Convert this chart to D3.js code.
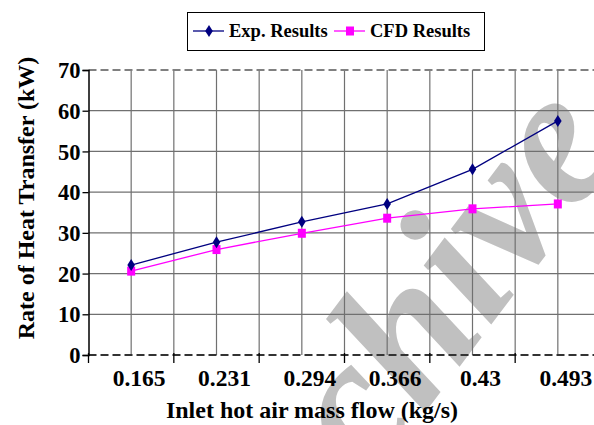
<!DOCTYPE html>
<html>
<head>
  <style>
    body, html { margin: 0; padding: 0; background: #fff; }
    svg { display: block; }
    text { font-family: "Liberation Serif", "Times New Roman", serif; font-weight: bold; }
  </style>
</head>
<body>
<svg id="svg" width="594" height="425"></svg>
<script src="https://d3js.org/d3.v7.min.js"></script>
<script>
  const flows = ["0.165", "0.231", "0.294", "0.366", "0.43", "0.493"]
  const expResults = [22.1, 27.7, 32.7, 37.1, 45.6, 57.5]
  const cfdResults = [20.6, 25.9, 29.9, 33.6, 35.9, 37.1]
  const yTicks = [0, 10, 20, 30, 40, 50, 60, 70]

  const svg = d3.select("#svg")
  const plotLeft = 88.5, plotRight = 600.5, plotTop = 70, plotBottom = 355

  const x = d3.scaleBand().domain(flows).range([plotLeft, plotRight])
  const y = d3.scaleLinear().domain([0, 70]).range([plotBottom, plotTop])
  const cx = d => x(d) + x.bandwidth() / 2

  // watermark under everything
  svg.append("text")
    .attr("transform", "translate(625,147) rotate(-53)")
    .attr("text-anchor", "end")
    .attr("font-size", 195)
    .attr("font-style", "italic")
    .attr("fill", "#c0c0c0")
    .text("Archive")

  const grid = svg.append("g").attr("stroke", "#707070").attr("stroke-width", 1.2)
  // vertical grid at category centres and boundaries
  const vx = []
  flows.forEach(f => { vx.push(x(f)); vx.push(cx(f)) })
  grid.selectAll(".v").data(vx.slice(1)).enter().append("line")
    .attr("x1", d => d).attr("x2", d => d)
    .attr("y1", plotTop).attr("y2", plotBottom)
  grid.selectAll(".h").data(yTicks.slice(1, -1)).enter().append("line")
    .attr("x1", plotLeft).attr("x2", 594)
    .attr("y1", d => y(d)).attr("y2", d => y(d))

  // top dashed border
  svg.append("line")
    .attr("x1", plotLeft).attr("x2", 594).attr("y1", y(70)).attr("y2", y(70))
    .attr("stroke", "#808080").attr("stroke-width", 2).attr("stroke-dasharray", "8,4")

  // x axis
  svg.append("line")
    .attr("x1", plotLeft).attr("x2", 594).attr("y1", plotBottom).attr("y2", plotBottom)
    .attr("stroke", "#333").attr("stroke-width", 2).attr("stroke-dasharray", "8,4")
  svg.append("g").selectAll("line").data(flows).enter().append("line")
    .attr("x1", d => x(d)).attr("x2", d => x(d))
    .attr("y1", plotBottom - 2).attr("y2", plotBottom + 8)
    .attr("stroke", "#000").attr("stroke-width", 1.3)
  svg.append("g").selectAll("text").data(flows).enter().append("text")
    .attr("x", d => cx(d) + 8).attr("y", 386)
    .attr("text-anchor", "middle").attr("font-size", 23.5)
    .text(d => d)

  // y axis
  const yAxis = d3.axisLeft(y).tickValues(yTicks).tickSize(6).tickPadding(2)
  const ya = svg.append("g").attr("transform", `translate(${plotLeft},0)`).call(yAxis)
  ya.select(".domain").attr("stroke", "#000").attr("stroke-width", 1.5)
  ya.selectAll(".tick line").attr("stroke", "#000").attr("stroke-width", 1.3)
  ya.selectAll(".tick text")
    .attr("font-size", 22.5).attr("font-family", "Liberation Serif, serif")
    .attr("font-weight", "bold").attr("fill", "#000").attr("dy", "0.34em")

  // series
  const lineGen = d3.line().x((d, i) => cx(flows[i])).y(d => y(d))
  svg.append("path").attr("d", lineGen(cfdResults))
    .attr("fill", "none").attr("stroke", "#ff00ff").attr("stroke-width", 1.3)
  svg.append("path").attr("d", lineGen(expResults))
    .attr("fill", "none").attr("stroke", "#000080").attr("stroke-width", 1.3)

  const diamond = "M0,-6L3.8,0L0,6L-3.8,0Z"
  svg.append("g").selectAll("rect").data(cfdResults).enter().append("rect")
    .attr("x", (d, i) => cx(flows[i]) - 4).attr("y", d => y(d) - 4.5)
    .attr("width", 8).attr("height", 9).attr("fill", "#ff00ff")
  svg.append("g").selectAll("path").data(expResults).enter().append("path")
    .attr("d", diamond)
    .attr("transform", (d, i) => `translate(${cx(flows[i])},${y(d)})`)
    .attr("fill", "#000080")

  // axis titles
  svg.append("text")
    .attr("x", 312).attr("y", 418).attr("text-anchor", "middle")
    .attr("font-size", 24).text("Inlet hot air mass flow (kg/s)")
  svg.append("text")
    .attr("transform", "translate(34,198) rotate(-90)").attr("text-anchor", "middle")
    .attr("font-size", 24).text("Rate of Heat Transfer (kW)")

  // legend
  const lg = svg.append("g")
  lg.append("rect").attr("x", 187.5).attr("y", 12.5).attr("width", 297).attr("height", 38)
    .attr("fill", "#fff").attr("stroke", "#000").attr("stroke-width", 1)
  const items = [
    { name: "Exp. Results", color: "#000080", x0: 193, shape: "d" },
    { name: "CFD Results", color: "#ff00ff", x0: 334, shape: "s" }
  ]
  items.forEach(it => {
    lg.append("line").attr("x1", it.x0).attr("x2", it.x0 + 31).attr("y1", 31).attr("y2", 31)
      .attr("stroke", it.color).attr("stroke-width", 1.3)
    if (it.shape === "d") {
      lg.append("path").attr("d", diamond).attr("transform", `translate(${it.x0 + 16},31)`)
        .attr("fill", it.color)
    } else {
      lg.append("rect").attr("x", it.x0 + 12).attr("y", 26.5).attr("width", 8).attr("height", 9)
        .attr("fill", it.color)
    }
    lg.append("text").attr("x", it.x0 + 36).attr("y", 37).attr("font-size", 18.5).text(it.name)
  })
</script>
</body>
</html>
